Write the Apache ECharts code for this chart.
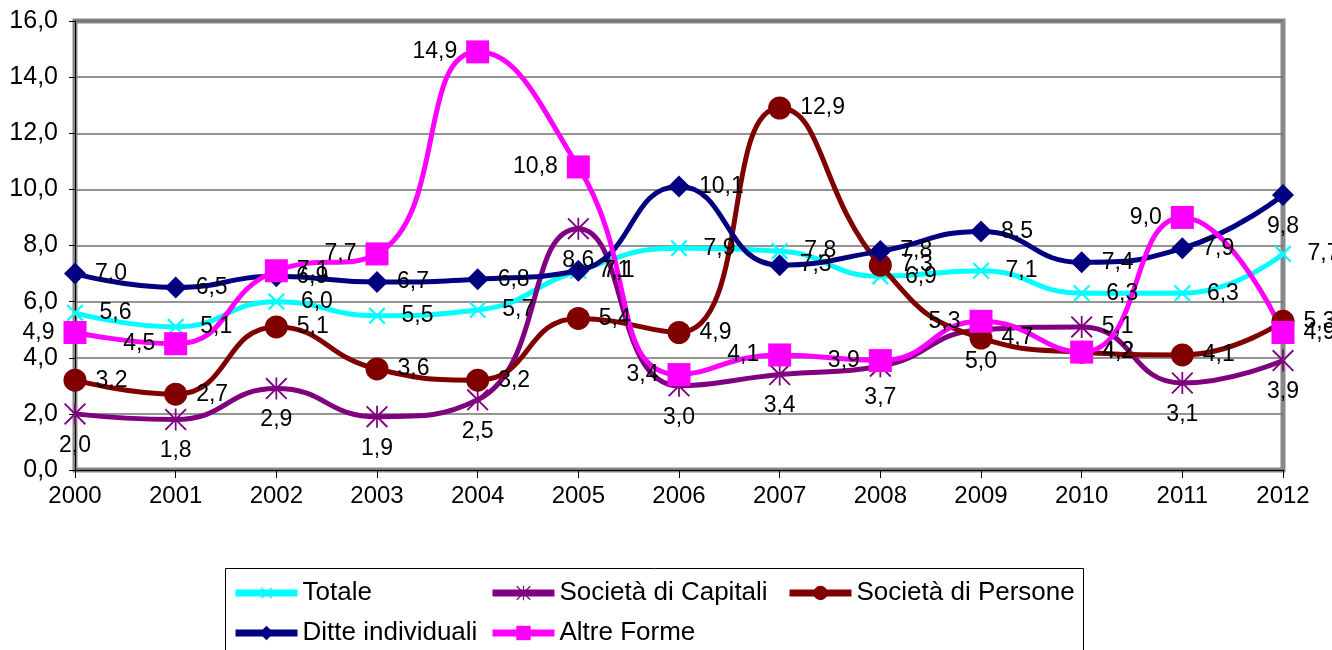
<!DOCTYPE html>
<html>
<head>
<meta charset="utf-8">
<script src="https://cdn.jsdelivr.net/npm/echarts@6/dist/echarts.min.js"></script>
<style>
  html, body { margin: 0; padding: 0; background: #fff; }
  #chart { width: 1332px; height: 650px; }
</style>
</head>
<body>
<div id="chart"></div>
<script>
var anni = ["2000", "2001", "2002", "2003", "2004", "2005", "2006", "2007", "2008", "2009", "2010", "2011", "2012"];

var totale = [5.6, 5.1, 6.0, 5.5, 5.7, 7.1, 7.9, 7.8, 6.9, 7.1, 6.3, 6.3, 7.7];
var capitali = [2.0, 1.8, 2.9, 1.9, 2.5, 8.6, 3.0, 3.4, 3.7, 5.0, 5.1, 3.1, 3.9];
var persone = [3.2, 2.7, 5.1, 3.6, 3.2, 5.4, 4.9, 12.9, 7.3, 4.7, 4.2, 4.1, 5.3];
var ditte = [7.0, 6.5, 6.9, 6.7, 6.8, 7.1, 10.1, 7.3, 7.8, 8.5, 7.4, 7.9, 9.8];
var altre = [4.9, 4.5, 7.1, 7.7, 14.9, 10.8, 3.4, 4.1, 3.9, 5.3, 4.2, 9.0, 4.9];

// posizione delle etichette (come nel grafico excel)
var altrePos = ["left", "left", "right", "left", "left", "left", "left", "left", "left", "left", "right", "left", "right"];
var dittePos = ["right", "right", "right", "right", "right", "right", "right", "right", "right", "right", "right", "right", "bottom"];
var capitaliPos = ["bottom", "bottom", "bottom", "bottom", "bottom", "bottom", "bottom", "bottom", "bottom", "bottom", "right", "bottom", "bottom"];

var FONT = "Liberation Sans, Arial, sans-serif";

// simboli
var xSym = "path://M4.5,0 L5.5,0 L5.5,4.5 L10,4.5 L10,5.5 L5.5,5.5 L5.5,10 L4.5,10 L4.5,5.5 L0,5.5 L0,4.5 L4.5,4.5 Z";
var starSym = "path://M4.6,0 L5.4,0 L5.4,10 L4.6,10 Z M0,0.6 L0.6,0 L10,9.4 L9.4,10 Z M10,0.6 L9.4,0 L0,9.4 L0.6,10 Z";

function fmt(v) {
  return v.toFixed(1).replace(".", ",");
}

function punti(valori, pos) {
  return valori.map(function (v, i) {
    var p = { value: v };
    if (pos) {
      p.label = { position: pos[i] };
    }
    return p;
  });
}

function serie(nome, valori, colore, simbolo, size, pos, defPos, extra) {
  var s = {
    name: nome,
    type: "line",
    smooth: 0.5,
    data: punti(valori, pos),
    symbol: simbolo,
    symbolSize: size,
    symbolKeepAspect: true,
    lineStyle: { color: colore, width: 5 },
    itemStyle: { color: colore, borderWidth: 0 },
    label: {
      show: true,
      position: defPos,
      distance: 9,
      color: "#000",
      fontFamily: FONT,
      fontSize: 23,
      formatter: function (p) {
        return fmt(p.value);
      },
    },
  };
  if (extra) {
    Object.assign(s, extra);
  }
  return s;
}

var myChart = echarts.init(document.getElementById("chart"));

var legendBase = {
  orient: "vertical",
  height: 120,
  itemWidth: 62,
  itemHeight: 18,
  itemGap: 14,
  padding: 0,
  textStyle: { fontFamily: FONT, fontSize: 26, color: "#000" },
  lineStyle: { width: 7 },
};

var option = {
  backgroundColor: "#fff",
  animation: false,
  grid: {
    left: 75,
    right: 49,
    top: 21,
    bottom: 180,
    show: true,
    borderColor: "#888",
    borderWidth: 5,
  },
  legend: [
    Object.assign({ left: 232, top: 580, data: ["Totale", "Ditte individuali"] }, legendBase),
    Object.assign({ left: 489, top: 580, data: ["Società di Capitali", "Altre Forme"] }, legendBase),
    Object.assign({ left: 786, top: 580, data: ["Società di Persone"] }, legendBase),
  ],
  graphic: [
    {
      type: "rect",
      shape: { x: 225.5, y: 568.5, width: 858, height: 100 },
      style: { fill: "none", stroke: "#000", lineWidth: 1 },
      silent: true,
      z: -1,
    },
  ],
  xAxis: {
    type: "category",
    data: anni,
    boundaryGap: false,
    axisLine: { lineStyle: { color: "#000", width: 1 } },
    axisTick: { show: true, length: 8, lineStyle: { color: "#000" } },
    axisLabel: {
      color: "#000",
      fontFamily: FONT,
      fontSize: 24,
      margin: 14,
    },
    splitLine: { show: false },
  },
  yAxis: {
    type: "value",
    min: 0,
    max: 16,
    interval: 2,
    axisLine: { show: true, lineStyle: { color: "#000", width: 1 } },
    axisTick: { show: true, length: 6, lineStyle: { color: "#000" } },
    axisLabel: {
      color: "#000",
      fontFamily: FONT,
      fontSize: 25,
      margin: 17,
      formatter: function (v) {
        return fmt(v);
      },
    },
    splitLine: { lineStyle: { color: "#707070", width: 1.5 } },
  },
  series: [
    serie("Totale", totale, "#00FFFF", xSym, 22, null, "right", { symbolRotate: 45 }),
    serie("Società di Capitali", capitali, "#800080", starSym, 22, capitaliPos, "bottom"),
    serie("Società di Persone", persone, "#800000", "circle", 23, null, "right"),
    serie("Ditte individuali", ditte, "#000080", "diamond", 22, dittePos, "right"),
    serie("Altre Forme", altre, "#FF00FF", "rect", 23, altrePos, "left"),
  ],
};

option && myChart.setOption(option);
</script>
</body>
</html>
